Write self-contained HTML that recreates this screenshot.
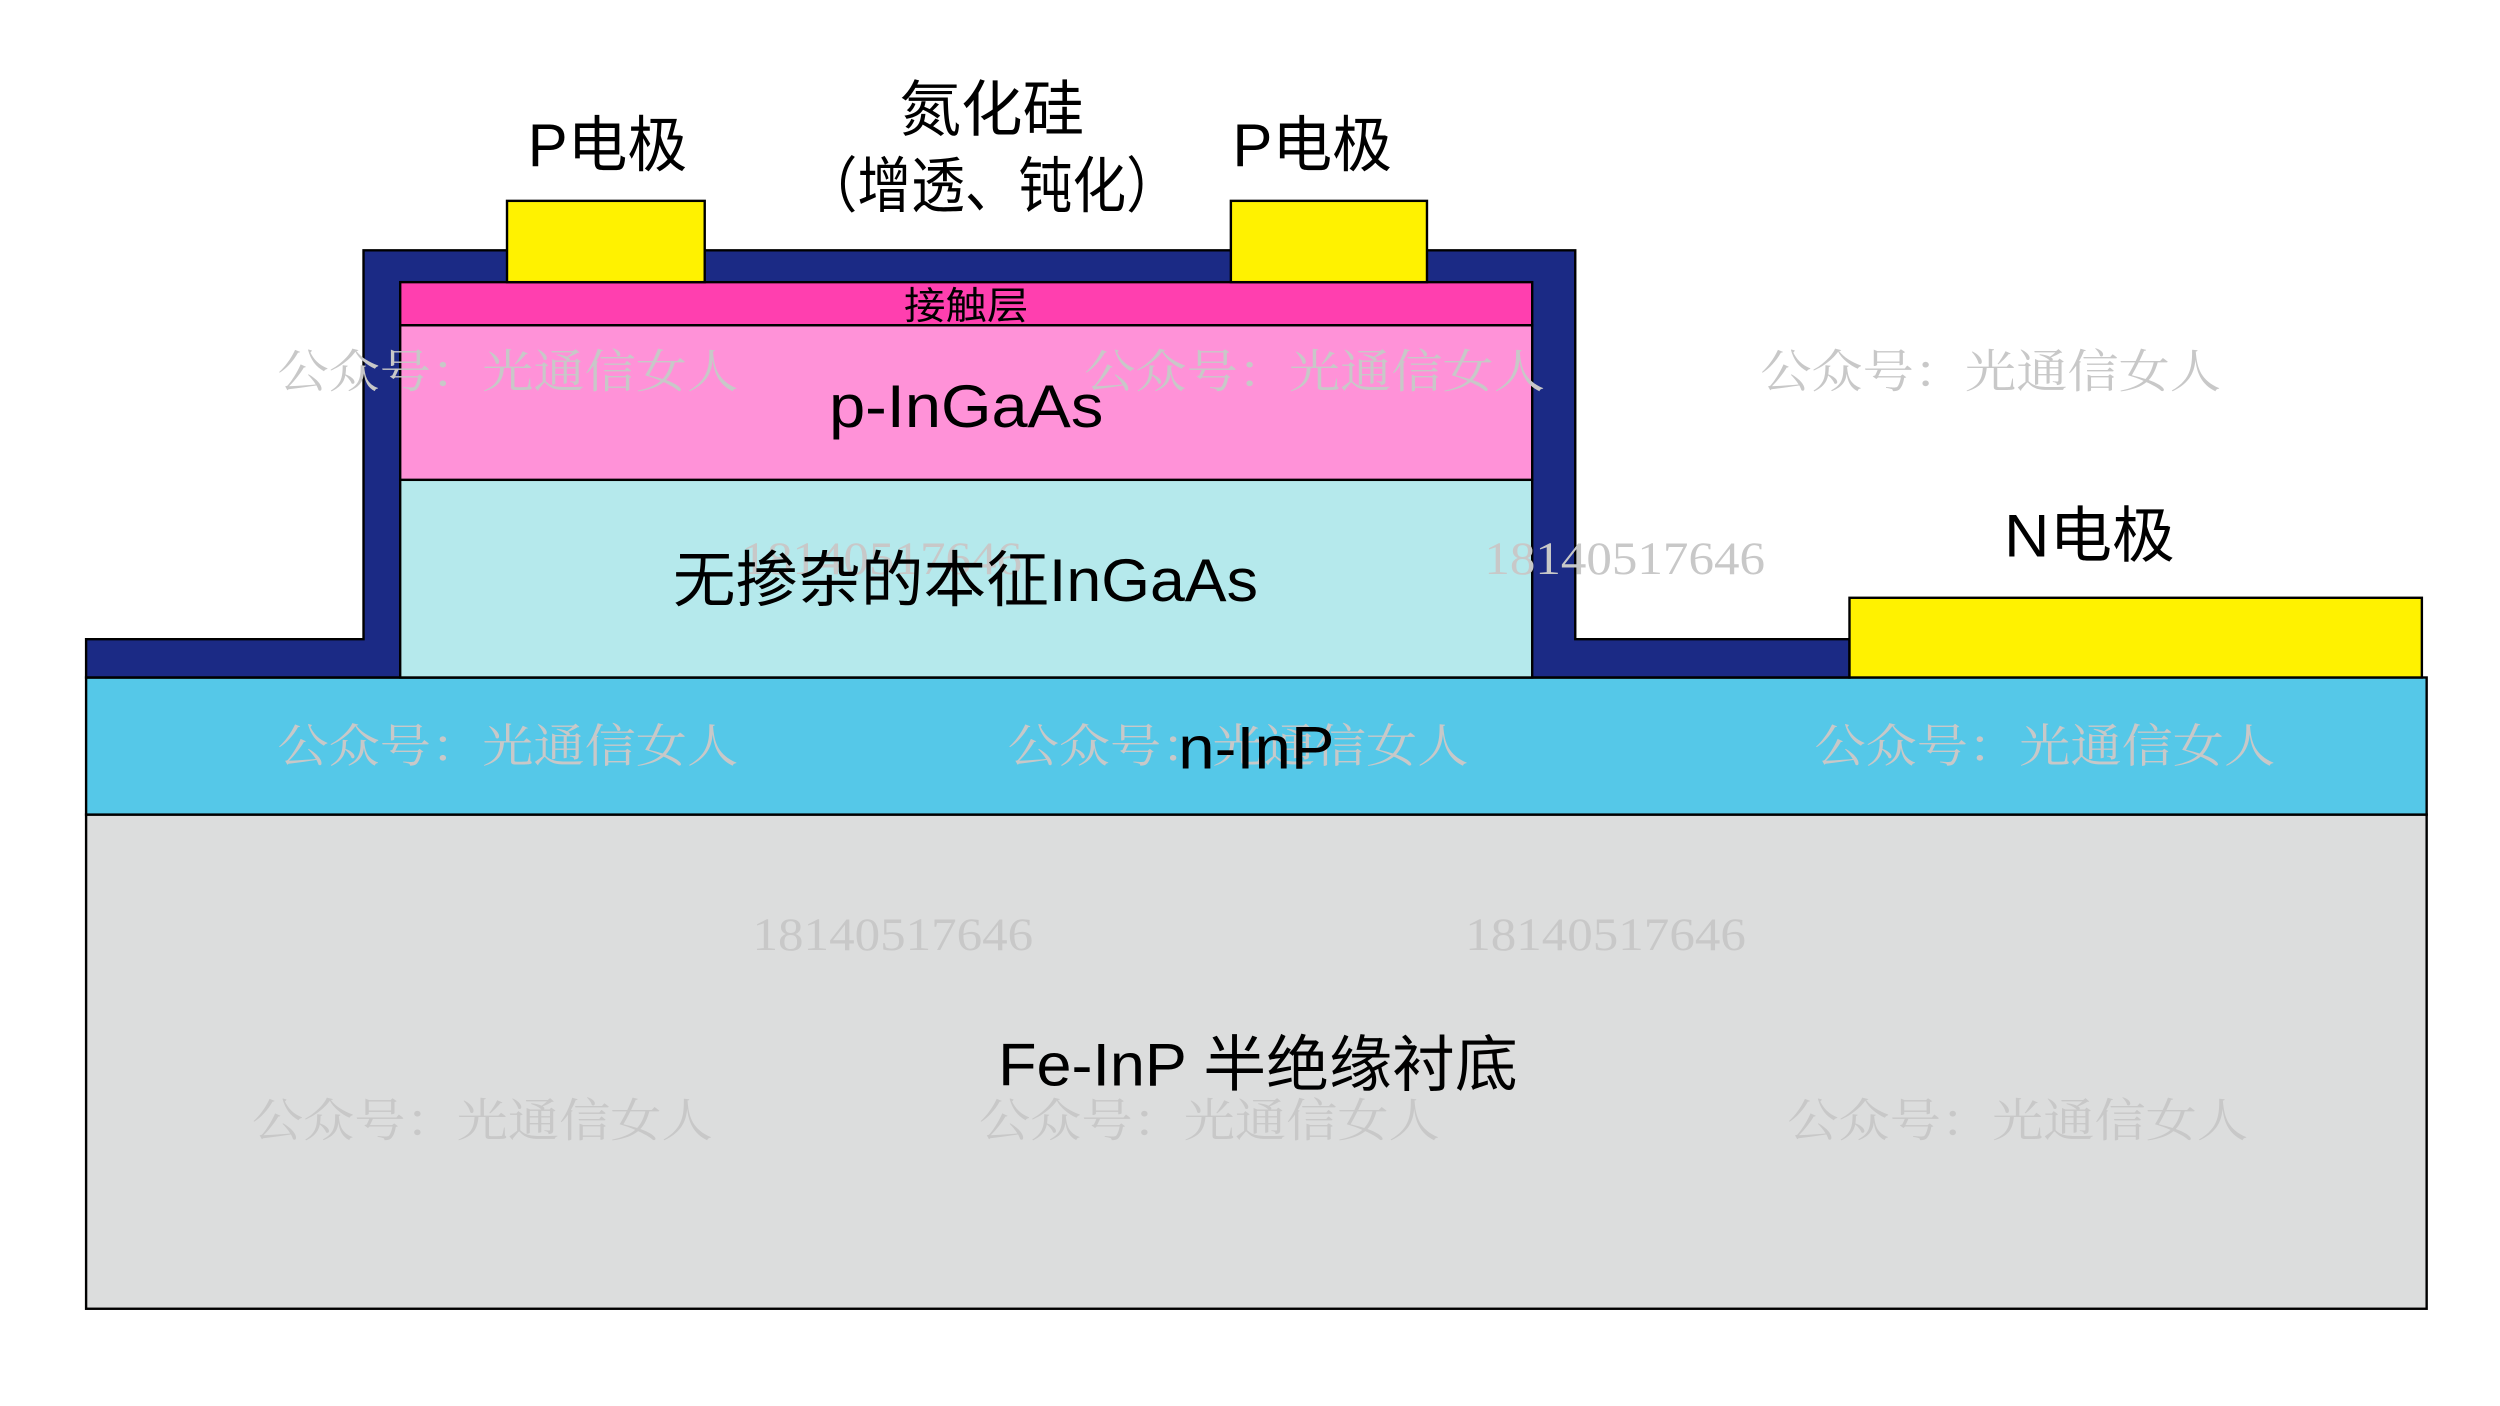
<!DOCTYPE html>
<html><head><meta charset="utf-8"><style>
html,body{margin:0;padding:0;background:#fff;}
svg{display:block}
text{font-family:"Liberation Sans","Noto Sans CJK SC",sans-serif;}
.wm{font-family:"Liberation Serif","Noto Serif CJK SC",serif;fill:#c8c8c8;font-size:29px;}
</style></head><body>
<svg width="2500" height="1406" viewBox="0 0 1568 882" preserveAspectRatio="none" xmlns="http://www.w3.org/2000/svg">
<rect width="1568" height="882" fill="#fff"/>
<rect x="54" y="511" width="1468" height="310" fill="#dcdddd" stroke="#000" stroke-width="1.5"/>
<rect x="54" y="425" width="1468" height="86" fill="#55c8e8" stroke="#000" stroke-width="1.5"/>
<path d="M54 401 H228 V157 H988 V401 H1160 V425 H54 Z" fill="#1b2a85" stroke="#000" stroke-width="1.5"/>
<rect x="251" y="301" width="710" height="124" fill="#b5e9ec" stroke="#000" stroke-width="1.5"/>
<rect x="251" y="204" width="710" height="97" fill="#ff92d8" stroke="#000" stroke-width="1.5"/>
<rect x="251" y="177" width="710" height="27" fill="#ff3faf" stroke="#000" stroke-width="1.5"/>
<rect x="318" y="126" width="124" height="51" fill="#fff200" stroke="#000" stroke-width="1.5"/>
<rect x="772" y="126" width="123" height="51" fill="#fff200" stroke="#000" stroke-width="1.5"/>
<rect x="1160" y="375" width="359" height="50" fill="#fff200" stroke="#000" stroke-width="1.5"/>
<g class="wm">
<text class="wm" x="174" y="243" textLength="289" lengthAdjust="spacingAndGlyphs">公众号：光通信女人</text>
<text class="wm" x="680" y="243" textLength="289" lengthAdjust="spacingAndGlyphs">公众号：光通信女人</text>
<text class="wm" x="1104" y="243" textLength="289" lengthAdjust="spacingAndGlyphs">公众号：光通信女人</text>
<text class="wm" x="465" y="360" textLength="176" lengthAdjust="spacingAndGlyphs">18140517646</text>
<text class="wm" x="931" y="360" textLength="176" lengthAdjust="spacingAndGlyphs">18140517646</text>
<text class="wm" x="174" y="478" textLength="289" lengthAdjust="spacingAndGlyphs">公众号：光通信女人</text>
<text class="wm" x="632" y="478" textLength="289" lengthAdjust="spacingAndGlyphs">公众号：光通信女人</text>
<text class="wm" x="1138" y="478" textLength="289" lengthAdjust="spacingAndGlyphs">公众号：光通信女人</text>
<text class="wm" x="472" y="596" textLength="176" lengthAdjust="spacingAndGlyphs">18140517646</text>
<text class="wm" x="919" y="596" textLength="176" lengthAdjust="spacingAndGlyphs">18140517646</text>
<text class="wm" x="158" y="713" textLength="289" lengthAdjust="spacingAndGlyphs">公众号：光通信女人</text>
<text class="wm" x="614" y="713" textLength="289" lengthAdjust="spacingAndGlyphs">公众号：光通信女人</text>
<text class="wm" x="1121" y="713" textLength="289" lengthAdjust="spacingAndGlyphs">公众号：光通信女人</text>
</g>
<g fill="#000" font-size="38">
<text x="331" y="104" textLength="100" lengthAdjust="spacingAndGlyphs">P电极</text>
<text x="564" y="82" textLength="116" lengthAdjust="spacingAndGlyphs">氮化硅</text>
<text x="504" y="130" textLength="236" lengthAdjust="spacingAndGlyphs">（增透、钝化）</text>
<text x="773" y="104" textLength="100" lengthAdjust="spacingAndGlyphs">P电极</text>
<text x="1257" y="349" textLength="107" lengthAdjust="spacingAndGlyphs">N电极</text>
<text x="520" y="268" textLength="172" lengthAdjust="spacingAndGlyphs">p-InGaAs</text>
<text x="422" y="377" textLength="367" lengthAdjust="spacingAndGlyphs">无掺杂的本征InGaAs</text>
<text x="739" y="482" textLength="98" lengthAdjust="spacingAndGlyphs">n-InP</text>
<text x="626" y="681" textLength="326" lengthAdjust="spacingAndGlyphs">Fe-InP 半绝缘衬底</text>
<text x="567" y="200" font-size="24" textLength="78" lengthAdjust="spacingAndGlyphs">接触层</text>
</g>
</svg>
</body></html>
